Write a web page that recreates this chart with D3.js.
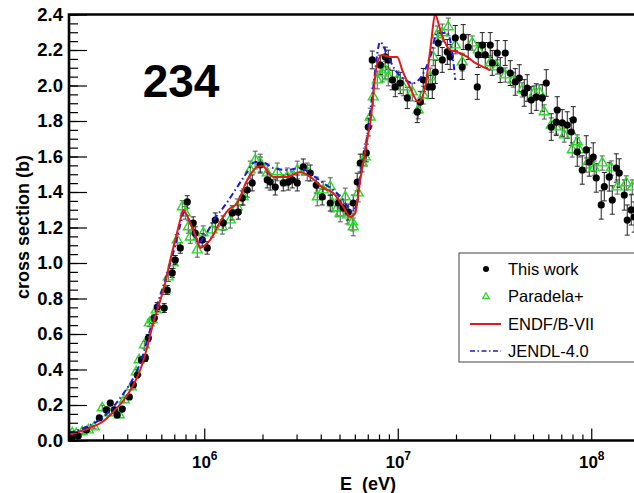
<!DOCTYPE html>
<html>
<head>
<meta charset="utf-8">
<script src="https://cdn.jsdelivr.net/npm/d3@7"></script>
<style>
  html, body { margin: 0; padding: 0; background: #fff; }
  svg { display: block; }
  text { font-family: "Liberation Sans", Arial, Helvetica, sans-serif; }
</style>
</head>
<body>
<svg id="chart" width="634" height="493"></svg>
<script>
// ---------------- data (energies in MeV, cross sections in barn) ----------------
const thisWorkE = [0.208,0.223,0.246,0.287,0.312,0.327,0.343,0.355,0.377,0.410,0.430,0.451,0.473,0.496,0.514,0.552,0.572,0.621,0.644,0.683,0.708,0.752,0.817,0.877,0.898,0.977,1.036,1.140,1.254,1.395,1.499,1.572,1.668,1.770,1.947,2.116,2.193,2.328,2.560,2.718,2.850,3.025,3.249,3.530,3.792,4.072,4.479,4.926,5.227,5.548,5.888,6.175,6.400,6.875,7.040,7.384,8.121,8.618,8.932,9.367,9.707,10.30,11.20,12.61,13.07,13.55,14.38,15.08,15.63,16.19,16.98,18.03,18.67,19.83,21.54,21.80,23.13,25.76,26.06,27.34,28.33,30.06,30.79,32.67,33.86,35.94,38.14,40.48,42.46,45.05,46.70,48.97,51.97,55.84,58.54,62.13,65.94,66.73,70.81,75.16,78.82,80.72,84.65,89.84,94.23,97.65,102.4,106.1,112.6,116.8,123.9,128.4,134.7,139.5,148.1,153.5,161.0,166.8];
const thisWorkXS = [0.020,0.025,0.060,0.127,0.172,0.211,0.172,0.144,0.177,0.245,0.313,0.369,0.454,0.465,0.577,0.690,0.752,0.746,0.848,0.944,1.017,1.085,1.344,1.225,1.169,1.130,1.085,1.242,1.225,1.282,1.287,1.366,1.411,1.451,1.552,1.468,1.456,1.428,1.451,1.456,1.468,1.451,1.541,1.507,1.439,1.372,1.338,1.338,1.310,1.287,1.338,1.456,1.563,1.620,1.766,2.144,2.116,2.161,2.144,2.031,1.992,2.014,1.930,1.851,1.907,2.031,1.992,1.992,2.076,2.239,2.144,2.189,2.161,2.268,2.104,2.273,2.217,1.992,2.172,2.228,2.172,2.228,2.127,2.183,2.087,2.183,2.070,2.020,2.042,1.958,1.986,1.918,1.935,1.930,2.014,1.766,1.794,1.862,1.789,1.777,1.738,1.806,1.625,1.524,1.637,1.569,1.597,1.479,1.327,1.430,1.485,1.355,1.535,1.507,1.383,1.242,1.299,1.259];
const thisWorkErr = [0.010,0.010,0.012,0.012,0.015,0.015,0.015,0.015,0.015,0.015,0.015,0.015,0.015,0.020,0.020,0.020,0.025,0.025,0.025,0.025,0.025,0.030,0.035,0.035,0.035,0.035,0.035,0.040,0.040,0.040,0.040,0.040,0.040,0.045,0.045,0.045,0.045,0.045,0.045,0.045,0.045,0.045,0.045,0.045,0.045,0.045,0.045,0.045,0.045,0.045,0.045,0.050,0.050,0.050,0.050,0.050,0.055,0.055,0.055,0.055,0.055,0.060,0.060,0.060,0.060,0.065,0.065,0.065,0.065,0.070,0.070,0.070,0.070,0.070,0.070,0.070,0.070,0.070,0.070,0.070,0.070,0.070,0.070,0.070,0.070,0.070,0.070,0.075,0.075,0.075,0.075,0.075,0.075,0.075,0.075,0.075,0.075,0.075,0.075,0.075,0.075,0.075,0.080,0.080,0.080,0.080,0.080,0.080,0.080,0.080,0.080,0.080,0.080,0.080,0.085,0.085,0.085,0.085];

const paradelaE = [0.208,0.218,0.234,0.252,0.270,0.297,0.323,0.364,0.386,0.420,0.445,0.461,0.490,0.520,0.539,0.565,0.629,0.652,0.692,0.725,0.770,0.798,0.827,0.847,0.920,0.988,1.100,1.239,1.363,1.481,1.591,1.729,1.835,1.947,2.116,2.384,2.686,3.025,3.407,3.837,4.121,4.479,4.586,4.868,5.045,5.354,5.483,5.819,5.888,6.249,6.554,6.792,7.210,7.472,7.836,8.316,8.618,8.932,9.941,10.68,11.88,12.76,13.55,14.72,15.26,16.00,16.98,18.24,19.83,21.54,24.27,26.06,30.06,32.67,35.94,39.53,44.00,50.76,53.87,57.17,62.13,65.94,72.54,79.78,84.65,86.70,94.23,103.6,114.0,126.9,136.3,151.7,162.9];
const paradelaXS = [0.042,0.037,0.048,0.059,0.076,0.183,0.155,0.144,0.228,0.301,0.386,0.454,0.538,0.662,0.679,0.735,0.848,0.921,1.000,1.130,1.316,1.282,1.203,1.146,1.073,1.169,1.186,1.203,1.242,1.316,1.372,1.524,1.580,1.563,1.507,1.513,1.485,1.524,1.513,1.372,1.411,1.430,1.338,1.310,1.282,1.372,1.270,1.231,1.203,1.394,1.563,1.597,1.822,1.935,2.031,2.070,2.087,2.048,2.031,1.992,1.963,1.862,1.946,2.048,2.161,2.285,2.296,2.330,2.228,2.132,2.239,2.200,2.127,2.104,2.059,2.031,1.975,1.958,1.963,1.851,1.777,1.766,1.721,1.637,1.682,1.637,1.552,1.535,1.563,1.535,1.428,1.451,1.428];
const paradelaErr = [0.010,0.010,0.010,0.010,0.010,0.015,0.015,0.015,0.015,0.015,0.015,0.015,0.020,0.020,0.020,0.025,0.025,0.025,0.030,0.030,0.035,0.035,0.035,0.035,0.040,0.040,0.040,0.040,0.045,0.045,0.045,0.050,0.050,0.050,0.050,0.050,0.050,0.050,0.050,0.050,0.050,0.050,0.050,0.050,0.050,0.050,0.050,0.050,0.050,0.050,0.050,0.050,0.050,0.050,0.050,0.050,0.050,0.050,0.050,0.050,0.050,0.050,0.050,0.050,0.050,0.050,0.050,0.050,0.050,0.050,0.040,0.040,0.040,0.040,0.040,0.040,0.040,0.040,0.040,0.040,0.040,0.040,0.040,0.040,0.040,0.040,0.040,0.040,0.040,0.040,0.040,0.040,0.040];

const endfE  = [0.200,0.2545,0.2971,0.3346,0.3770,0.4246,0.4725,0.5075,0.5386,0.5715,0.6286,0.6674,0.7082,0.7515,0.7789,0.8465,0.9201,0.9535,1.012,1.100,1.167,1.331,1.481,1.668,1.878,1.994,2.273,2.686,3.134,3.530,4.121,4.642,5.227,5.683,6.031,6.400,6.957,7.210,7.836,8.316,9.147,9.941,10.55,11.60,12.76,13.87,14.72,15.63,16.58,17.60,18.67,20.30,22.87,25.15,27.66,30.06];
const endfXS = [0.031,0.070,0.104,0.155,0.217,0.301,0.414,0.527,0.639,0.735,0.887,1.017,1.130,1.242,1.299,1.225,1.130,1.085,1.101,1.146,1.203,1.299,1.338,1.468,1.541,1.546,1.485,1.485,1.513,1.485,1.423,1.394,1.316,1.259,1.282,1.468,1.693,1.789,2.127,2.172,2.161,2.161,2.087,1.986,1.907,1.992,2.200,2.397,2.313,2.239,2.200,2.189,2.161,2.127,2.104,2.087];

const jendlE  = [0.200,0.2575,0.2971,0.3346,0.3770,0.4246,0.4725,0.5075,0.5386,0.5715,0.6286,0.7082,0.7515,0.7882,0.8465,0.9311,1.012,1.140,1.284,1.446,1.629,1.835,1.994,2.273,2.686,3.134,3.615,4.121,4.642,5.227,5.683,6.031,6.400,6.957,7.384,8.121,8.826,9.707,10.94,12.03,13.07,14.72,16.00,18.03,19.13,19.83];
const jendlXS = [0.042,0.087,0.127,0.183,0.256,0.341,0.454,0.566,0.668,0.763,0.904,1.101,1.214,1.287,1.231,1.113,1.158,1.254,1.327,1.411,1.496,1.569,1.569,1.535,1.524,1.535,1.496,1.451,1.411,1.355,1.299,1.310,1.496,1.721,1.946,2.245,2.172,2.087,2.031,2.014,2.042,2.161,2.296,2.296,2.183,2.031];

const yTickValues = [0,0.2,0.4,0.6,0.8,1.0,1.2,1.4,1.6,1.8,2.0,2.2,2.4];
const yTickLabels = ["0.0","0.2","0.4","0.6","0.8","1.0","1.2","1.4","1.6","1.8","2.0","2.2","2.4"];
const xDecades = [1e6,1e7,1e8];
const xDecadeExponents = ["6","7","8"];
const legendLabels = ["This work","Paradela+","ENDF/B-VII","JENDL-4.0"];
const titleText = "234";
const xTitle = "E  (eV)";
const yTitle = "cross section (b)";

(function () {
// ---------------- layout ----------------
const svg = d3.select("#chart");
const pLeft = 69, pTop = 14.5, pBottom = 440.5, pRight = 649.5;
const x = d3.scaleLog().domain([2e5, 2e8]).range([pLeft, pRight]);
const y = d3.scaleLinear().domain([0, 2.4]).range([pBottom, pTop]);
const MeV = 1e6;

const zip = (E, S, Er) => E.map((e, i) => ({ e: e * MeV, s: S[i], err: Er ? Er[i] : 0 }));
const thisWork = zip(thisWorkE, thisWorkXS, thisWorkErr);
const paradela = zip(paradelaE, paradelaXS, paradelaErr);
const endf = zip(endfE, endfXS);
const jendl = zip(jendlE, jendlXS);

svg.append("rect").attr("width", 634).attr("height", 493).attr("fill", "#fff");

svg.append("defs").append("clipPath").attr("id", "plotclip")
  .append("rect").attr("x", pLeft).attr("y", pTop - 1).attr("width", pRight - pLeft).attr("height", pBottom - pTop + 1);

const plot = svg.append("g").attr("clip-path", "url(#plotclip)");

function errorBars(data, color, cap) {
  const g = plot.append("g").attr("stroke", color).attr("stroke-width", 1).attr("fill", "none");
  data.forEach(d => {
    const cx = x(d.e), y1 = y(d.s - d.err), y2 = y(d.s + d.err);
    g.append("line").attr("x1", cx).attr("x2", cx).attr("y1", y1).attr("y2", y2);
    g.append("line").attr("x1", cx - cap).attr("x2", cx + cap).attr("y1", y1).attr("y2", y1);
    g.append("line").attr("x1", cx - cap).attr("x2", cx + cap).attr("y1", y2).attr("y2", y2);
  });
}
errorBars(paradela, "#555", 2.5);
errorBars(thisWork, "#222", 2.5);

const triGreen = "#22dd22";
const tri = d3.symbol().type(d3.symbolTriangle).size(42);
plot.append("g").selectAll("path").data(paradela).join("path")
  .attr("d", tri)
  .attr("transform", d => `translate(${x(d.e)},${y(d.s)})`)
  .attr("fill", "none").attr("stroke", triGreen).attr("stroke-width", 1.4);

plot.append("g").selectAll("circle").data(thisWork).join("circle")
  .attr("cx", d => x(d.e)).attr("cy", d => y(d.s)).attr("r", 3.6).attr("fill", "#000");

const line = d3.line().x(d => x(d.e)).y(d => y(d.s)).curve(d3.curveMonotoneX);
plot.append("path").datum(jendl).attr("d", line)
  .attr("fill", "none").attr("stroke", "#1a1adc").attr("stroke-width", 2)
  .attr("stroke-dasharray", "6,3,1.5,3");
plot.append("path").datum(endf).attr("d", line)
  .attr("fill", "none").attr("stroke", "#e21a1a").attr("stroke-width", 2);

// ---------------- axes ----------------
const yMinor = d3.range(0, 2.4001, 0.05).map(v => +v.toFixed(2));
const gyMinor = svg.append("g").attr("transform", `translate(${pLeft},0)`)
  .call(d3.axisLeft(y).tickValues(yMinor).tickSize(-9).tickFormat(""));
gyMinor.select(".domain").remove();
gyMinor.selectAll("line").attr("stroke", "#000").attr("stroke-width", 1.2);

const gy = svg.append("g").attr("transform", `translate(${pLeft},0)`)
  .call(d3.axisLeft(y).tickValues(yTickValues).tickSize(-18).tickPadding(6)
    .tickFormat((d, i) => yTickLabels[i]));
gy.select(".domain").remove();
gy.selectAll("line").attr("stroke", "#000").attr("stroke-width", 1.2);
gy.selectAll("text").attr("font-size", 18.5).attr("font-weight", "bold")
  .attr("fill", "#000").attr("font-family", "'Liberation Sans', Arial, sans-serif");

const xMinor = [];
[1e5, 1e6, 1e7, 1e8].forEach(dec => { for (let k = 2; k <= 9; k++) { const v = k * dec; if (v >= 2e5 && v <= 2e8) xMinor.push(v); } });
const gxMinor = svg.append("g").attr("transform", `translate(0,${pBottom})`)
  .call(d3.axisBottom(x).tickValues(xMinor).tickSize(-6).tickFormat(""));
gxMinor.select(".domain").remove();
gxMinor.selectAll("line").attr("stroke", "#000").attr("stroke-width", 1.2);

const gx = svg.append("g").attr("transform", `translate(0,${pBottom})`)
  .call(d3.axisBottom(x).tickValues(xDecades).tickSize(-12).tickFormat(""));
gx.select(".domain").remove();
gx.selectAll("line").attr("stroke", "#000").attr("stroke-width", 1.2);
gx.selectAll(".tick").each(function (d, i) {
  const t = d3.select(this).append("text")
    .attr("y", 27).attr("fill", "#000").attr("text-anchor", "middle")
    .attr("font-size", 17).attr("font-weight", "bold")
    .attr("font-family", "'Liberation Sans', Arial, sans-serif");
  t.append("tspan").text("10");
  t.append("tspan").attr("dy", -8).attr("font-size", 12).text(xDecadeExponents[i]);
});

svg.append("path")
  .attr("d", `M${pRight},${pTop}H${pLeft}V${pBottom}H${pRight}`)
  .attr("fill", "none").attr("stroke", "#000").attr("stroke-width", 2.6);

// titles
svg.append("text").attr("x", 368).attr("y", 490).attr("text-anchor", "middle")
  .attr("font-size", 18).attr("font-weight", "bold").style("white-space", "pre")
  .text(xTitle);
svg.append("text").attr("transform", "translate(29,227) rotate(-90)").attr("text-anchor", "middle")
  .attr("font-size", 18).attr("font-weight", "bold").text(yTitle);
svg.append("text").attr("x", 181).attr("y", 97).attr("text-anchor", "middle")
  .attr("font-size", 46).attr("font-weight", "bold").text(titleText);

// ---------------- legend ----------------
const lg = svg.append("g");
lg.append("rect").attr("x", 459).attr("y", 253).attr("width", 200).attr("height", 109)
  .attr("fill", "#fff").attr("stroke", "#444").attr("stroke-width", 1);
const rowsY = [269, 296.5, 324, 351];
const mx = 486, tx = 508;
lg.append("circle").attr("cx", mx).attr("cy", rowsY[0]).attr("r", 3).attr("fill", "#000");
lg.append("path").attr("d", d3.symbol().type(d3.symbolTriangle).size(18))
  .attr("transform", `translate(${mx},${rowsY[1]})`)
  .attr("fill", "none").attr("stroke", triGreen).attr("stroke-width", 1.2);
lg.append("line").attr("x1", 470).attr("x2", 501).attr("y1", rowsY[2]).attr("y2", rowsY[2])
  .attr("stroke", "#e21a1a").attr("stroke-width", 2);
lg.append("line").attr("x1", 470).attr("x2", 501).attr("y1", rowsY[3]).attr("y2", rowsY[3])
  .attr("stroke", "#1a1adc").attr("stroke-width", 1.6).attr("stroke-dasharray", "5,2.5,1.5,2.5");
legendLabels.forEach((lab, i) => {
  lg.append("text").attr("x", tx).attr("y", rowsY[i]).attr("dy", "0.36em")
    .attr("font-size", 16.5).attr("fill", "#000").text(lab);
});
})();
</script>
</body>
</html>
